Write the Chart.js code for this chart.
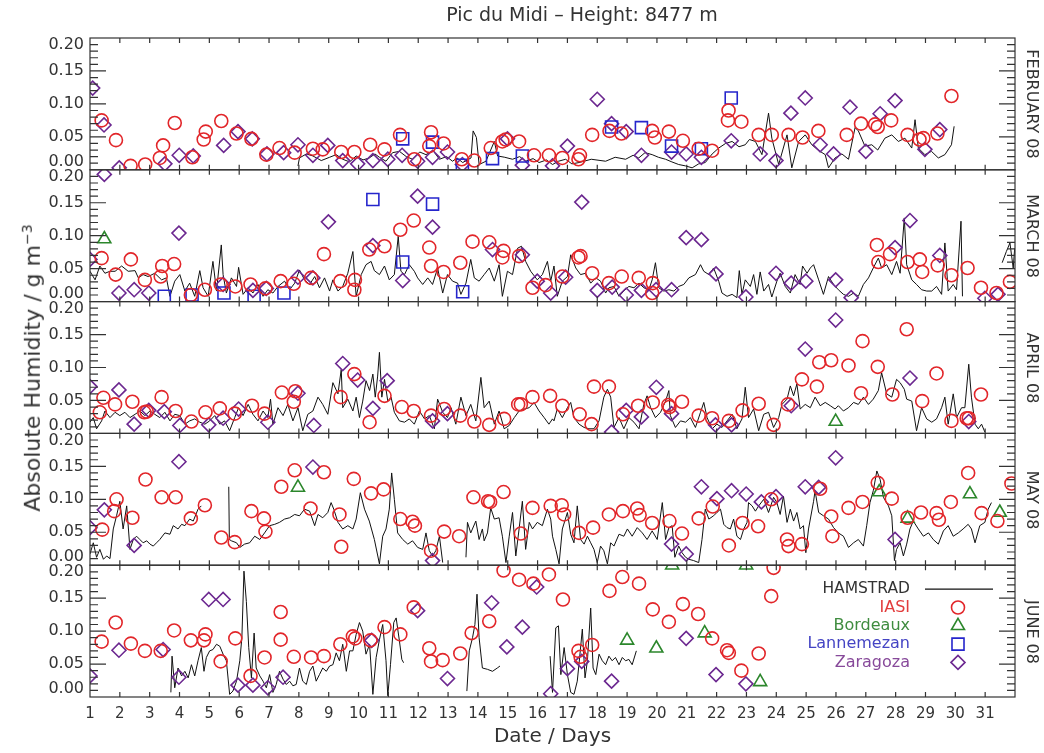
<!DOCTYPE html>
<html>
<head>
<meta charset="utf-8">
<script src="https://cdn.jsdelivr.net/npm/chart.js@4.4.1/dist/chart.umd.min.js"></script>
<style>
  body { margin: 0; background: #fff; }
  #wrap { position: relative; width: 1044px; height: 753px; font-family: 'DejaVu Sans', sans-serif; color: #333; }
  #chart { position: absolute; left: 0; top: 0; }
  .lbl { position: absolute; white-space: nowrap; transform: translate(-50%, -50%); }
  #title { left: 582px; top: 14px; font-size: 19px; }
  #ylab { left: 32px; top: 368px; font-size: 22px; transform: translate(-50%, -50%) rotate(-90deg); }
  #ylab sup { font-size: 14px; }
  .month { left: 1032px; font-size: 16px; transform: translate(-50%, -50%) rotate(90deg); }
</style>
</head>
<body>
<div id="wrap">
  <canvas id="chart" width="1044" height="753"></canvas>
  <div class="lbl" id="title">Pic du Midi – Height: 8477 m</div>
  <div class="lbl" id="ylab">Absolute Humidity / g m<sup>−3</sup></div>
</div>
<script>
// ---- tick labels / panels ----
const MONTHS = ['FEBRUARY 08', 'MARCH 08', 'APRIL 08', 'MAY 08', 'JUNE 08'];
const Y_TICKS = [0, 0.05, 0.10, 0.15, 0.20];

// ---- data: [day, absolute humidity g/m3] ----
// null value = gap in the HAMSTRAD record

// FEBRUARY
const febHamstrad = [[7.97,.006],[8.02,.018],[8.25,.024],[8.47,.021],[8.75,.014],[9.03,.019],[9.25,.023],[9.47,.016],[9.70,.012],[9.92,.021],[10.15,.015],[10.36,.018],[10.55,.024],[10.70,.019],[10.92,.013],[11.14,.026],[11.37,.028],[11.60,.020],[11.81,.016],[12.05,.027],[12.26,.023],[12.50,.029],[12.71,.016],[12.95,.020],[13.15,.013],[13.30,.018],[13.49,.011],[13.77,.018],[13.84,.059],[13.95,.049],[14.04,.008],[14.27,.013],[14.55,.043],[14.66,.021],[14.90,.019],[15.16,.016],[15.40,.020],[15.60,.013],[15.85,.017],[16.05,.011],[16.30,.015],[16.50,.008],[16.70,.013],[16.94,.016],[17.15,.009],[17.39,.011],[17.80,.016],[18.28,.013],[18.60,.019],[18.95,.016],[19.20,.022],[19.39,.018],[19.60,.026],[19.84,.023],[20.05,.019],[20.29,.016],[20.50,.012],[20.73,.008],[20.95,.006],[21.18,.003],[21.40,.009],[21.62,.011],[21.85,.024],[22.07,.033],[22.30,.040],[22.52,.043],[22.75,.035],[22.96,.038],[23.10,.046],[23.30,.043],[23.52,.023],[23.74,.086],[23.85,.048],[24.08,.008],[24.36,.053],[24.52,.003],[24.75,.043],[24.97,.053],[25.19,.038],[25.40,.030],[25.64,.023],[25.75,.003],[25.97,.018],[26.20,.024],[26.42,.016],[26.64,.064],[26.75,.059],[26.97,.036],[27.20,.038],[27.40,.030],[27.64,.048],[27.87,.053],[28.09,.043],[28.31,.048],[28.54,.033],[28.65,.076],[28.76,.033],[28.98,.023],[29.20,.028],[29.43,.018],[29.65,.023],[29.87,.038],[29.96,.066]];
const febIasi = [[1.39,.075],[1.87,.045],[2.36,.006],[2.85,.008],[3.34,.018],[3.45,.037],[3.84,.071],[4.43,.019],[4.81,.046],[4.88,.058],[5.40,.074],[5.91,.055],[6.41,.047],[6.91,.023],[7.35,.033],[7.86,.026],[8.47,.032],[8.80,.031],[9.42,.027],[9.86,.027],[10.39,.038],[10.87,.031],[11.39,.053],[11.87,.016],[12.37,.036],[12.43,.057],[12.85,.040],[13.46,.016],[13.88,.014],[14.43,.033],[14.82,.043],[14.93,.046],[15.38,.043],[15.88,.022],[16.38,.022],[16.83,.018],[17.37,.016],[17.42,.022],[17.83,.053],[18.41,.059],[18.81,.055],[19.84,.059],[19.93,.049],[20.40,.058],[20.87,.044],[21.40,.032],[21.85,.029],[22.38,.075],[22.40,.090],[22.83,.073],[23.41,.053],[23.85,.053],[24.41,.053],[24.88,.049],[25.41,.059],[26.36,.053],[26.84,.070],[27.31,.069],[27.40,.065],[27.85,.075],[28.40,.053],[28.80,.046],[28.93,.048],[29.40,.055],[29.87,.112]];
const febBordeaux = [];
const febLannemezan = [[11.48,.047],[12.48,.042],[13.48,.007],[14.49,.017],[15.49,.021],[18.48,.065],[19.48,.064],[20.49,.036],[21.49,.032],[22.49,.109]];
const febZaragoza = [[1.09,.124],[1.47,.068],[1.98,.003],[3.51,.009],[3.99,.022],[4.46,.021],[5.48,.037],[5.96,.058],[6.44,.047],[6.93,.024],[7.49,.026],[7.97,.038],[8.47,.022],[8.97,.037],[9.47,.014],[9.97,.009],[10.48,.014],[10.98,.016],[11.46,.022],[11.98,.013],[12.48,.019],[12.98,.027],[13.48,.008],[14.99,.047],[15.49,.007],[16.50,.006],[17.00,.036],[18.00,.107],[18.48,.070],[18.97,.058],[19.48,.022],[20.49,.027],[20.98,.024],[21.49,.019],[22.49,.044],[23.46,.024],[23.99,.014],[24.49,.086],[24.97,.109],[25.47,.038],[25.92,.024],[26.47,.095],[27.00,.028],[27.48,.085],[27.98,.105],[28.98,.031],[29.48,.061]];

// MARCH
const marHamstrad = [[1.00,.046],[1.17,.033],[1.33,.054],[1.50,.043],[1.67,.046],[1.84,.046],[2.06,.054],[2.28,.046],[2.51,.047],[2.62,.036],[2.78,.041],[2.95,.038],[3.17,.043],[3.40,.033],[3.56,.036],[3.68,.008],[3.84,.031],[4.01,.041],[4.18,.016],[4.34,.028],[4.51,.008],[4.68,.047],[4.79,.021],[4.96,.008],[5.12,.061],[5.24,.016],[5.40,.086],[5.46,.041],[5.57,.013],[5.74,.036],[5.91,.023],[5.98,.052],[6.13,.011],[6.30,.021],[6.46,.013],[6.63,.026],[6.80,.008],[6.96,.018],[7.13,.013],[7.30,.023],[7.52,.031],[7.69,.018],[7.86,.028],[8.02,.048],[8.19,.033],[8.36,.026],[8.53,.038],[8.69,.021],[8.86,.036],[9.03,.016],[9.14,.033],[9.31,.016],[9.47,.023],[9.64,.043],[9.81,.076],[9.92,.008],[10.09,.041],[10.25,.056],[10.42,.061],[10.53,.047],[10.70,.041],[10.87,.054],[11.03,.033],[11.20,.041],[11.33,.099],[11.42,.046],[11.54,.041],[11.70,.056],[11.87,.046],[11.98,.036],[12.15,.026],[12.32,.036],[12.48,.026],[12.65,.051],[12.82,.013],[12.98,.041],[13.15,.031],[13.32,.028],[13.43,.011],[13.60,.028],[13.76,.064],[13.88,.036],[14.04,.031],[14.21,.041],[14.38,.051],[14.55,.031],[14.71,.056],[14.82,.008],[14.99,.046],[15.16,.041],[15.33,.081],[15.46,.084],[15.60,.061],[15.77,.046],[15.99,.033],[16.16,.041],[16.33,.061],[16.44,.031],[16.55,.054],[16.66,.008],[16.83,.031],[17.00,.038],[17.11,.071],[17.28,.051],[17.44,.041],[17.61,.043],[17.78,.028],[17.95,.036],[18.11,.031],[18.28,.013],[18.39,.021],[18.56,.023],[18.73,.008],[18.89,.016],[19.06,.023],[19.23,.021],[19.40,.028],[19.56,.021],[19.73,.018],[19.84,.033],[19.95,.059],[20.06,.021],[20.23,.016],[20.40,.018],[20.57,.016],[20.73,.023],[20.90,.026],[21.07,.036],[21.29,.041],[21.46,.056],[21.57,.046],[21.74,.041],[21.90,.051],[22.07,.031],[22.18,.013],[22.35,.008],[22.52,.011],[22.68,.006],[22.76,.047],[22.85,.011],[22.96,.033],[23.13,.023],[23.24,.041],[23.35,.011],[23.46,.045],[23.58,.016],[23.74,.026],[23.85,.007],[24.02,.031],[24.13,.043],[24.30,.023],[24.47,.013],[24.63,.041],[24.80,.026],[24.88,.054],[25.03,.043],[25.14,.051],[25.25,.056],[25.42,.033],[25.58,.011],[25.75,.038],[25.92,.026],[26.08,.018],[26.25,.011],[26.42,.008],[26.59,.013],[26.75,.008],[26.92,.026],[27.09,.036],[27.25,.051],[27.42,.066],[27.53,.051],[27.70,.056],[27.87,.041],[28.03,.061],[28.15,.043],[28.29,.127],[28.37,.056],[28.54,.033],[28.70,.026],[28.87,.018],[29.04,.016],[29.21,.016],[29.37,.023],[29.54,.011],[29.65,.089],[29.76,.016],[29.93,.026],[30.04,.018],[30.19,.122],[30.24,.008],[30.8,null],[31.57,.059],[31.71,.076],[31.83,.089],[31.94,.051],[31.99,.081]];
const marIasi = [[1.39,.066],[1.86,.041],[2.37,.064],[2.84,.033],[3.37,.038],[3.42,.054],[3.82,.057],[4.38,.010],[4.85,.018],[5.38,.026],[5.87,.023],[6.38,.026],[6.88,.020],[7.39,.031],[7.83,.027],[8.41,.036],[8.84,.072],[9.39,.031],[9.86,.018],[9.88,.033],[10.36,.079],[10.87,.084],[11.40,.109],[11.85,.123],[12.37,.082],[12.43,.054],[12.85,.045],[13.41,.059],[13.82,.091],[14.38,.090],[14.82,.067],[14.86,.077],[15.38,.069],[15.83,.021],[16.27,.025],[16.83,.038],[17.37,.067],[17.44,.069],[17.83,.043],[18.39,.028],[18.82,.038],[19.39,.036],[19.84,.013],[19.86,.028],[27.37,.086],[27.42,.060],[27.81,.072],[28.40,.060],[28.81,.064],[28.89,.045],[29.41,.055],[29.87,.040],[30.41,.051],[30.86,.021],[31.38,.013],[31.83,.030]];
const marBordeaux = [[1.48,.095]];
const marLannemezan = [[3.49,.008],[4.42,.010],[5.49,.013],[6.50,.008],[7.50,.013],[10.48,.155],[11.48,.060],[12.48,.148],[13.49,.015]];
const marZaragoza = [[1.00,.064],[1.48,.193],[1.97,.013],[2.48,.018],[2.97,.013],[3.98,.104],[5.46,.026],[6.46,.017],[6.91,.020],[7.97,.037],[8.47,.036],[8.99,.121],[10.48,.085],[11.48,.032],[11.98,.160],[12.48,.113],[14.49,.079],[15.49,.071],[15.99,.031],[16.44,.013],[16.94,.037],[17.48,.151],[18.00,.017],[18.50,.022],[18.97,.010],[19.48,.017],[19.97,.018],[20.49,.018],[20.98,.097],[21.49,.094],[21.98,.042],[22.98,.007],[23.99,.043],[24.50,.028],[24.99,.031],[25.99,.033],[26.51,.006],[27.98,.082],[28.48,.123],[29.48,.070],[30.99,.005],[31.43,.011]];

// APRIL
const aprHamstrad = [[1.00,.017],[1.11,.024],[1.22,.007],[1.39,.019],[1.50,.034],[1.67,.024],[1.84,.032],[2.00,.027],[2.17,.032],[2.34,.024],[2.51,.029],[2.67,.034],[2.84,.027],[3.01,.034],[3.17,.029],[3.34,.024],[3.51,.032],[3.68,.019],[3.84,.029],[4.01,.027],[4.18,.014],[4.34,.019],[4.51,.022],[4.68,.017],[4.85,.014],[5.01,.019],[5.18,.027],[5.35,.014],[5.51,.019],[5.68,.004],[5.85,.024],[5.98,.039],[6.13,.027],[6.30,.044],[6.46,.029],[6.63,.019],[6.80,.034],[6.96,.024],[7.05,.052],[7.13,.014],[7.30,.039],[7.47,.027],[7.63,.044],[7.80,.019],[7.97,.039],[8.13,.004],[8.30,.029],[8.47,.034],[8.64,.055],[8.80,.044],[8.97,.029],[9.14,.077],[9.31,.060],[9.42,.097],[9.47,.039],[9.64,.052],[9.81,.034],[9.92,.055],[10.03,.024],[10.14,.049],[10.25,.080],[10.37,.065],[10.48,.090],[10.56,.055],[10.64,.087],[10.70,.123],[10.78,.055],[10.87,.082],[10.98,.049],[11.09,.055],[11.20,.032],[11.37,.019],[11.54,.017],[11.70,.022],[11.87,.014],[12.04,.034],[12.21,.022],[12.37,.027],[12.54,.007],[12.65,.052],[12.82,.032],[12.98,.024],[13.10,.039],[13.26,.014],[13.43,.055],[13.60,.027],[13.76,.044],[13.93,.019],[14.10,.085],[14.21,.039],[14.38,.049],[14.55,.014],[14.71,.034],[14.88,.007],[15.05,.012],[15.22,.024],[15.38,.034],[15.55,.037],[15.72,.039],[15.88,.047],[16.05,.034],[16.22,.024],[16.38,.014],[16.50,.022],[16.55,.019],[16.66,.037],[16.83,.024],[17.00,.039],[17.11,.047],[17.22,.024],[17.39,.014],[17.56,.009],[17.72,.007],[17.89,.007],[18.06,.019],[18.22,.055],[18.34,.067],[18.45,.055],[18.56,.009],[18.73,.024],[18.89,.007],[19.06,.024],[19.23,.017],[19.40,.007],[19.56,.044],[19.67,.057],[19.79,.039],[19.95,.024],[20.12,.032],[20.29,.049],[20.40,.065],[20.45,.027],[20.62,.009],[20.79,.019],[20.96,.017],[21.12,.024],[21.29,.009],[21.46,.032],[21.57,.047],[21.68,.024],[21.85,.007],[22.01,.014],[22.18,.009],[22.35,.019],[22.52,.029],[22.68,.007],[22.85,.022],[22.96,.070],[23.07,.024],[23.24,.037],[23.41,.004],[23.58,.029],[23.74,.032],[23.91,.009],[24.08,.024],[24.19,.044],[24.36,.052],[24.47,.072],[24.58,.057],[24.69,.075],[24.80,.037],[24.97,.044],[25.14,.039],[25.30,.055],[25.47,.042],[25.64,.047],[25.81,.042],[25.97,.037],[26.08,.042],[26.25,.034],[26.42,.039],[26.59,.047],[26.75,.044],[26.92,.055],[27.09,.044],[27.25,.052],[27.42,.065],[27.53,.092],[27.70,.060],[27.87,.055],[28.03,.082],[28.15,.077],[28.29,.067],[28.37,.052],[28.54,.049],[28.70,.004],[28.87,.039],[29.04,.022],[29.21,.017],[29.37,.022],[29.54,.039],[29.65,.055],[29.76,.014],[29.93,.060],[30.04,.024],[30.21,.039],[30.32,.039],[30.45,.105],[30.54,.055],[30.66,.014],[30.77,.007],[30.88,.014],[30.99,.002]];
const aprIasi = [[1.33,.032],[1.45,.054],[1.84,.044],[2.42,.048],[2.82,.032],[2.90,.033],[3.40,.055],[3.87,.034],[4.40,.018],[4.87,.032],[5.35,.038],[5.85,.030],[6.43,.042],[6.85,.030],[7.43,.062],[7.83,.048],[7.88,.064],[9.40,.055],[9.86,.090],[10.37,.017],[10.87,.057],[11.45,.040],[11.85,.034],[12.43,.027],[12.87,.037],[13.41,.027],[13.88,.018],[14.38,.013],[14.88,.022],[15.35,.044],[15.44,.044],[15.83,.055],[16.42,.057],[16.83,.042],[17.41,.029],[17.81,.014],[17.89,.071],[18.39,.071],[18.86,.029],[19.37,.042],[19.86,.047],[20.38,.043],[20.42,.040],[20.84,.048],[21.40,.027],[21.85,.023],[22.41,.019],[22.87,.035],[23.41,.045],[23.91,.013],[24.39,.044],[24.86,.082],[25.36,.071],[25.44,.108],[25.84,.111],[26.42,.103],[26.84,.061],[26.89,.140],[27.40,.101],[27.89,.059],[28.37,.158],[28.89,.049],[29.37,.091],[29.87,.019],[30.38,.023],[30.45,.023],[30.86,.059]];
const aprBordeaux = [[25.99,.018]];
const aprLannemezan = [];
const aprZaragoza = [[1.00,.071],[1.97,.066],[2.48,.014],[2.97,.035],[3.49,.033],[4.01,.012],[4.98,.013],[5.46,.023],[5.98,.037],[6.96,.017],[7.97,.061],[8.50,.012],[9.47,.106],[9.97,.081],[10.48,.038],[10.96,.080],[12.48,.019],[12.98,.030],[18.48,.002],[18.97,.035],[19.48,.025],[19.98,.070],[20.49,.030],[21.96,.013],[22.50,.013],[24.50,.042],[24.97,.128],[25.99,.172],[28.48,.084],[30.45,.018]];

// MAY
const mayHamstrad = [[1.00,.017],[1.11,.034],[1.22,.012],[1.33,.024],[1.45,.009],[1.56,.014],[1.67,.010],[1.78,.055],[1.89,.075],[2.00,.097],[2.11,.055],[2.23,.090],[2.34,.024],[2.45,.039],[2.56,.044],[2.67,.039],[2.78,.034],[2.90,.037],[3.01,.032],[3.12,.029],[3.23,.034],[3.34,.039],[3.51,.049],[3.68,.047],[3.79,.060],[3.95,.055],[4.07,.062],[4.18,.060],[4.34,.070],[4.46,.067],[4.62,.085],[4.73,.090],[5.2,null],[5.65,.119],[5.67,.039],[5.74,.037],[5.91,.034],[6.02,.027],[6.18,.032],[6.35,.034],[6.52,.044],[6.69,.039],[6.85,.049],[7.02,.060],[7.19,.062],[7.35,.065],[7.52,.070],[7.69,.072],[7.86,.077],[8.02,.075],[8.19,.085],[8.36,.082],[8.53,.060],[8.64,.077],[8.80,.072],[8.97,.080],[9.08,.095],[9.17,.085],[9.31,.065],[9.47,.055],[9.64,.060],[9.81,.055],[9.92,.070],[10.06,.110],[10.20,.085],[10.36,.067],[10.53,.039],[10.70,.002],[10.81,.044],[10.92,.055],[11.03,.085],[11.11,.140],[11.20,.100],[11.31,.049],[11.48,.039],[11.65,.032],[11.81,.037],[11.98,.027],[12.15,.024],[12.26,.049],[12.37,.022],[12.48,.014],[12.59,.022],[12.71,.044],[12.82,.004],[13.2,null],[13.60,.012],[13.65,.065],[13.76,.049],[13.93,.067],[14.04,.039],[14.15,.055],[14.21,.037],[14.32,.049],[14.43,.087],[14.55,.070],[14.71,.072],[14.82,.044],[14.94,.004],[15.05,.044],[15.16,.080],[15.27,.014],[15.38,.055],[15.49,.097],[15.60,.024],[15.72,.065],[15.83,.055],[15.99,.065],[16.16,.060],[16.33,.085],[16.44,.070],[16.50,.044],[16.61,.024],[16.72,.002],[16.83,.055],[17.00,.080],[17.11,.047],[17.22,.034],[17.33,.090],[17.44,.039],[17.56,.032],[17.67,.044],[17.78,.034],[17.89,.024],[18.00,.004],[18.11,.029],[18.22,.022],[18.34,.002],[18.45,.034],[18.56,.029],[18.73,.047],[18.89,.044],[19.01,.055],[19.17,.044],[19.34,.057],[19.51,.049],[19.67,.039],[19.84,.052],[20.01,.039],[20.18,.095],[20.29,.039],[20.40,.057],[20.51,.060],[20.60,.012],[20.73,.029],[20.84,.019],[20.96,.012],[21.07,.009],[21.23,.007],[21.40,.004],[21.51,.039],[21.62,.085],[21.74,.070],[21.90,.075],[22.01,.080],[22.13,.085],[22.24,.062],[22.35,.057],[22.46,.055],[22.57,.070],[22.68,.044],[22.80,.039],[22.91,.055],[23.02,.065],[23.07,.095],[23.19,.090],[23.30,.082],[23.41,.090],[23.58,.100],[23.74,.080],[23.91,.103],[24.02,.095],[24.13,.077],[24.24,.105],[24.36,.065],[24.47,.085],[24.58,.067],[24.69,.080],[24.80,.055],[24.91,.060],[24.99,.019],[25.08,.055],[25.25,.097],[25.30,.113],[25.42,.080],[25.58,.075],[25.75,.070],[25.92,.057],[26.08,.049],[26.25,.044],[26.42,.027],[26.59,.034],[26.75,.039],[26.92,.029],[27.03,.060],[27.14,.095],[27.25,.113],[27.37,.143],[27.48,.130],[27.59,.103],[27.76,.090],[27.87,.075],[27.96,.007],[28.03,.024],[28.15,.034],[28.26,.014],[28.37,.032],[28.48,.055],[28.59,.067],[28.76,.055],[28.93,.044],[29.10,.049],[29.26,.039],[29.43,.032],[29.60,.052],[29.76,.060],[29.93,.044],[30.10,.049],[30.26,.055],[30.43,.062],[30.54,.055],[30.66,.034],[30.82,.060],[30.99,.065],[31.10,.085],[31.21,.095]];
const mayIasi = [[1.41,.054],[1.81,.082],[1.89,.100],[2.42,.072],[2.86,.130],[3.40,.103],[3.87,.103],[4.38,.071],[4.85,.091],[5.40,.042],[5.85,.035],[6.41,.082],[6.83,.071],[6.88,.051],[7.41,.119],[7.86,.144],[8.39,.086],[8.84,.141],[9.36,.077],[9.42,.028],[9.84,.131],[10.42,.109],[10.84,.115],[11.40,.070],[11.81,.066],[11.89,.060],[12.43,.022],[12.87,.051],[13.37,.044],[13.85,.103],[14.34,.097],[14.41,.096],[14.86,.111],[15.44,.048],[15.83,.087],[16.44,.090],[16.81,.091],[16.89,.077],[17.39,.049],[17.86,.057],[18.39,.077],[18.86,.082],[19.34,.086],[19.42,.076],[19.84,.064],[20.42,.067],[20.84,.048],[21.40,.071],[21.87,.089],[22.41,.030],[22.87,.064],[23.39,.059],[23.83,.100],[24.36,.039],[24.41,.029],[24.86,.032],[25.47,.116],[25.84,.074],[25.88,.044],[26.42,.087],[26.89,.096],[27.40,.125],[27.87,.101],[28.40,.072],[28.85,.080],[29.37,.079],[29.45,.069],[29.85,.096],[30.43,.140],[30.88,.079],[31.41,.067],[31.88,.124]];
const mayBordeaux = [[7.97,.118],[27.45,.111],[28.40,.071],[30.49,.108],[31.49,.080]];
const mayLannemezan = [];
const mayZaragoza = [[1.00,.057],[1.48,.084],[2.48,.030],[3.98,.157],[8.47,.149],[12.48,.007],[20.49,.032],[20.98,.017],[21.49,.119],[22.01,.101],[22.50,.113],[22.99,.108],[23.50,.096],[23.99,.104],[24.97,.119],[25.42,.118],[25.99,.163],[27.98,.039]];

// JUNE
const junHamstrad = [[3.71,.007],[3.75,.062],[3.84,.014],[3.95,.044],[4.07,.032],[4.18,.039],[4.29,.029],[4.40,.049],[4.51,.032],[4.62,.055],[4.73,.075],[4.82,.039],[4.90,.060],[5.01,.070],[5.12,.072],[5.24,.080],[5.35,.077],[5.46,.065],[5.57,.055],[5.68,.004],[5.79,.009],[5.91,.024],[6.02,.055],[6.09,.090],[6.16,.191],[6.24,.145],[6.32,.075],[6.41,.029],[6.50,.097],[6.57,.044],[6.69,.032],[6.80,.024],[6.91,.014],[7.02,.034],[7.13,.007],[7.24,.019],[7.35,.039],[7.47,.027],[7.58,.019],[7.69,.024],[7.80,.017],[7.91,.019],[8.02,.044],[8.13,.024],[8.25,.019],[8.36,.039],[8.47,.047],[8.58,.024],[8.69,.034],[8.80,.044],[8.92,.039],[9.03,.047],[9.14,.049],[9.25,.067],[9.36,.055],[9.47,.080],[9.59,.039],[9.70,.070],[9.81,.070],[9.92,.095],[10.03,.113],[10.14,.100],[10.25,.065],[10.37,.080],[10.48,.004],[10.59,.060],[10.70,.087],[10.81,.110],[10.92,.055],[10.98,.002],[11.07,.049],[11.18,.113],[11.26,.120],[11.37,.085],[11.45,.057],[11.51,.052],[12.5,null],[13.63,.009],[13.71,.070],[13.82,.090],[13.90,.110],[13.97,.156],[14.04,.090],[14.15,.044],[14.32,.042],[14.49,.039],[14.65,.044],[14.74,.047],[15.5,null],[16.42,.062],[16.50,.007],[16.61,.105],[16.70,.108],[16.78,.034],[16.89,.075],[17.00,.034],[17.11,.007],[17.22,.004],[17.33,.024],[17.41,.060],[17.50,.103],[17.59,.029],[17.67,.055],[17.78,.135],[17.86,.044],[17.95,.034],[18.06,.065],[18.17,.055],[18.28,.049],[18.39,.062],[18.50,.055],[18.61,.060],[18.73,.049],[18.84,.060],[18.95,.055],[19.06,.057],[19.17,.049],[19.31,.070]];
const junIasi = [[1.39,.084],[1.86,.113],[2.37,.081],[2.84,.070],[3.37,.070],[3.82,.101],[4.38,.086],[4.82,.086],[4.87,.095],[5.38,.054],[5.87,.089],[6.38,.032],[6.85,.060],[7.39,.129],[7.39,.087],[7.83,.061],[8.41,.060],[8.84,.062],[9.39,.080],[9.81,.092],[9.89,.089],[10.40,.086],[10.87,.106],[11.40,.095],[11.85,.136],[12.37,.074],[12.43,.054],[12.82,.056],[13.41,.066],[13.79,.097],[14.38,.115],[14.86,.192],[15.38,.178],[15.86,.172],[16.38,.186],[16.85,.148],[17.37,.070],[17.44,.061],[17.83,.079],[18.41,.161],[18.84,.182],[19.40,.172],[19.86,.133],[20.40,.114],[20.87,.141],[21.38,.126],[21.85,.089],[22.35,.071],[22.41,.067],[22.83,.040],[23.41,.066],[23.83,.153],[23.91,.196]];
const junBordeaux = [[19.00,.086],[19.98,.074],[20.51,.200],[21.60,.097],[22.99,.200],[23.46,.023]];
const junLannemezan = [];
const junZaragoza = [[1.00,.032],[1.97,.071],[3.45,.072],[3.98,.030],[4.98,.148],[5.46,.148],[5.96,.018],[6.46,.018],[6.96,.014],[7.47,.030],[10.44,.086],[11.98,.131],[12.98,.028],[14.46,.143],[14.97,.076],[15.49,.106],[15.97,.167],[16.44,.005],[17.00,.043],[17.48,.054],[18.48,.024],[20.98,.089],[21.98,.034],[22.98,.020]];

const hamstrad = [febHamstrad, marHamstrad, aprHamstrad, mayHamstrad, junHamstrad];
const stations = [
  [febIasi, febBordeaux, febLannemezan, febZaragoza],
  [marIasi, marBordeaux, marLannemezan, marZaragoza],
  [aprIasi, aprBordeaux, aprLannemezan, aprZaragoza],
  [mayIasi, mayBordeaux, mayLannemezan, mayZaragoza],
  [junIasi, junBordeaux, junLannemezan, junZaragoza]
];

// ---- styles ----
const FONT = "'DejaVu Sans', sans-serif";
const INK = '#333';
const markers = [
  { label: 'IASI',       style: 'circle',   r: 6.5, color: '#e2262a', text: '#e23c3c' },
  { label: 'Bordeaux',   style: 'triangle', r: 7.5, color: '#2c872c', text: '#3f8c3f' },
  { label: 'Lannemezan', style: 'rect',     r: 8.5, color: '#2525cc', text: '#4444c4' },
  { label: 'Zaragoza',   style: 'rectRot',  r: 7,   color: '#6c2890', text: '#87499a' }
];

const toXY = arr => arr.map(p => ({ x: p[0], y: p[1] }));

// month labels on the right
const wrap = document.getElementById('wrap');
MONTHS.forEach((m, i) => {
  const d = document.createElement('div');
  d.className = 'lbl month';
  d.style.top = (38 + 132 * i + 66) + 'px';
  d.textContent = m;
  wrap.appendChild(d);
});

// datasets
const datasets = [];
MONTHS.forEach((m, i) => {
  const yAxisID = 'y' + i;
  datasets.push({
    type: 'line', label: 'HAMSTRAD', data: toXY(hamstrad[i]), yAxisID,
    borderColor: '#111', borderWidth: 1, pointRadius: 0, tension: 0, spanGaps: false, order: 2
  });
  markers.forEach((mk, k) => {
    datasets.push({
      type: 'scatter', label: mk.label, data: toXY(stations[i][k]), yAxisID,
      pointStyle: mk.style, pointRadius: mk.r, pointBorderWidth: 1.6,
      pointBorderColor: mk.color, pointBackgroundColor: 'rgba(0,0,0,0)', showLine: false, order: 1
    });
  });
});

// scales: one shared x, five stacked y panels (Feb on top)
const scales = {
  x: {
    type: 'linear', position: 'bottom', min: 1, max: 32,
    grid: { display: false, drawTicks: false }, border: { display: false },
    ticks: { stepSize: 1, autoSkip: false, maxRotation: 0, padding: 8, color: INK,
             font: { family: FONT, size: 15 }, callback: v => (v <= 31 ? v : '') },
    title: { display: true, text: 'Date / Days', color: INK, font: { family: FONT, size: 20 },
             padding: { top: 2, bottom: 4 } },
    afterFit: s => { s.height = 56; }
  }
};
MONTHS.forEach((m, i) => {
  scales['y' + i] = {
    type: 'linear', position: 'left', stack: 'panels', stackWeight: 1, weight: 5 - i,
    min: 0, max: 0.2,
    grid: { display: false, drawTicks: false }, border: { display: false },
    ticks: { display: false, stepSize: 0.05 },
    afterFit: s => { s.width = 50; }
  };
});

// frames, inward ticks, y tick labels, legend
const framePlugin = {
  id: 'frames',
  afterDraw(chart) {
    const { ctx, chartArea: a } = chart;
    const xs = chart.scales.x;
    ctx.save();
    ctx.strokeStyle = INK;
    ctx.fillStyle = INK;
    ctx.lineWidth = 1.2;
    ctx.font = '16px ' + FONT;
    ctx.textAlign = 'right';
    ctx.textBaseline = 'middle';
    MONTHS.forEach((m, i) => {
      const s = chart.scales['y' + i];
      ctx.strokeRect(a.left, s.top, a.right - a.left, s.bottom - s.top);
      ctx.beginPath();
      for (let k = 1; k < 20; k++) {
        const y = s.getPixelForValue(k * 0.01);
        const len = k % 5 === 0 ? 16 : 8;
        ctx.moveTo(a.left, y); ctx.lineTo(a.left + len, y);
        ctx.moveTo(a.right, y); ctx.lineTo(a.right - len, y);
      }
      for (let d = 2; d <= 31; d++) {
        const x = xs.getPixelForValue(d);
        ctx.moveTo(x, s.top); ctx.lineTo(x, s.top + 5);
        ctx.moveTo(x, s.bottom); ctx.lineTo(x, s.bottom - 5);
      }
      ctx.stroke();
      Y_TICKS.forEach(v => {
        let y = s.getPixelForValue(v);
        if (v === 0) y -= 8;
        if (v === 0.2) y += 7;
        ctx.fillText(v.toFixed(2), a.left - 6, y);
      });
    });

    // legend inside the June panel
    const jun = chart.scales['y4'];
    const tx = 910, sx = 958;
    let ly = jun.top + 24;
    ctx.font = '15.5px ' + FONT;
    ctx.fillStyle = INK;
    ctx.fillText('HAMSTRAD', tx, ly);
    ctx.beginPath();
    ctx.strokeStyle = '#111';
    ctx.lineWidth = 1.3;
    ctx.moveTo(925, ly); ctx.lineTo(993, ly);
    ctx.stroke();
    markers.forEach(mk => {
      ly += 18.3;
      ctx.font = '16px ' + FONT;
      ctx.fillStyle = mk.text;
      ctx.fillText(mk.label, tx, ly);
      ctx.strokeStyle = mk.color;
      ctx.fillStyle = 'rgba(0,0,0,0)';
      ctx.lineWidth = 1.6;
      Chart.helpers.drawPoint(ctx, { pointStyle: mk.style, radius: mk.r, rotation: 0, borderWidth: 1.6 }, sx, ly);
    });
    ctx.restore();
  }
};

Chart.defaults.font.family = FONT;
Chart.defaults.color = INK;

new Chart(document.getElementById('chart'), {
  type: 'scatter',
  data: { datasets },
  options: {
    responsive: false,
    animation: false,
    events: [],
    layout: { padding: { left: 40, right: 29, top: 38, bottom: 0 } },
    scales,
    plugins: { legend: { display: false }, tooltip: { enabled: false } }
  },
  plugins: [framePlugin]
});
</script>
</body>
</html>
